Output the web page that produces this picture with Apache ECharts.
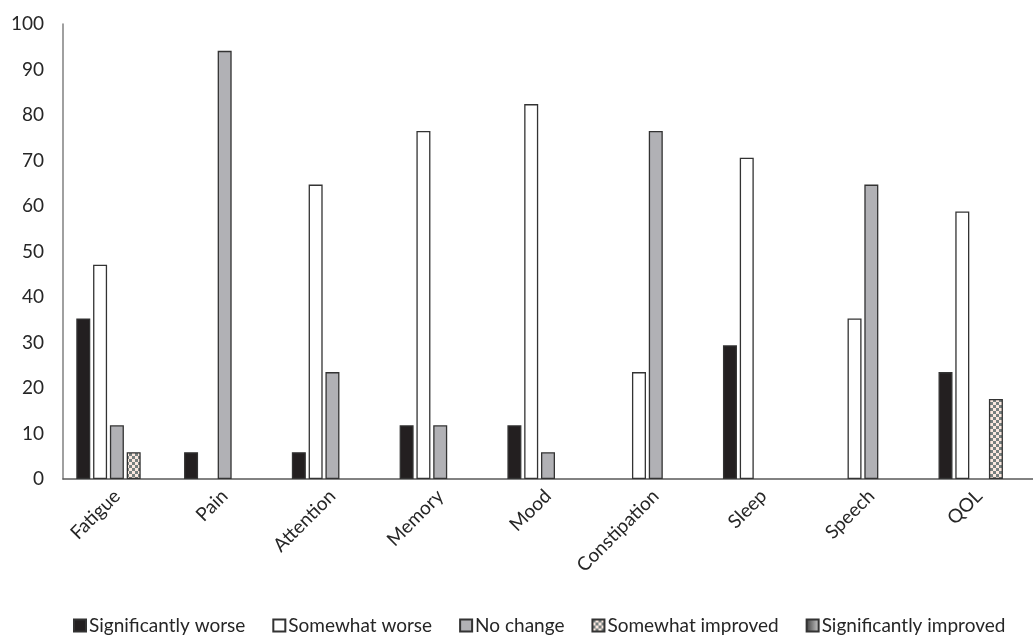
<!DOCTYPE html>
<html>
<head>
<meta charset="utf-8">
<script src="https://cdn.jsdelivr.net/npm/echarts@6/dist/echarts.min.js"></script>
<style>
html,body{margin:0;padding:0;background:#fff;}
#chart{width:1033px;height:637px;}
</style>
</head>
<body>
<div id="chart"></div>
<script>
const categories = ['Fatigue','Pain','Attention','Memory','Mood','Constipation','Sleep','Speech','QOL'];
const seriesNames = ['Significantly worse','Somewhat worse','No change','Somewhat improved','Significantly improved'];
const sigWorse = [35.3, 5.9, 5.9, 11.8, 11.8, 0, 29.4, 0, 23.5];
const someWorse = [47.1, 0, 64.7, 76.5, 82.4, 23.5, 70.6, 35.3, 58.8];
const noChange = [11.8, 94.1, 23.5, 11.8, 5.9, 76.5, 0, 64.7, 0];
const someImproved = [5.9, 0, 0, 0, 0, 0, 0, 0, 17.6];
const sigImproved = [0, 0, 0, 0, 0, 0, 0, 0, 0];
const yTicks = [0,10,20,30,40,50,60,70,80,90,100];

function checker(){
  const c = document.createElement('canvas');
  c.width = 6; c.height = 6;
  const g = c.getContext('2d');
  g.fillStyle = '#fbe8df'; g.fillRect(0,0,6,6);
  g.fillStyle = '#76807f';
  g.fillRect(0,0,3,3); g.fillRect(3,3,3,3);
  return c;
}
const fills = [
  '#231f20',
  '#ffffff',
  '#b1b1b5',
  {image: checker(), repeat: 'repeat'},
  {type:'linear', x:0, y:0, x2:1, y2:0, colorStops:[{offset:0,color:'#3a3a3a'},{offset:1,color:'#d0d0d0'}]}
];
const allData = [sigWorse, someWorse, noChange, someImproved, sigImproved];
const font = 'Lato, "Open Sans", sans-serif';

const chart = echarts.init(document.getElementById('chart'));
chart.setOption({
  animation: false,
  backgroundColor: '#ffffff',
  grid: {left: 63, right: -5, top: 24, bottom: 158, containLabel: false},
  xAxis: {
    type: 'category',
    data: categories,
    axisLine: {lineStyle: {color: '#595959', width: 1.5}},
    axisTick: {show: false},
    axisLabel: {rotate: 45, fontSize: 19, color: '#262626', fontFamily: font, margin: 14}
  },
  yAxis: {
    type: 'value',
    min: yTicks[0], max: yTicks[yTicks.length-1], interval: 10,
    axisLine: {show: true, lineStyle: {color: '#808080', width: 1.5}},
    axisTick: {show: false},
    splitLine: {show: false},
    axisLabel: {fontSize: 19, color: '#262626', fontFamily: font, margin: 19}
  },
  legend: {
    bottom: -3,
    left: 68,
    icon: 'rect',
    itemWidth: 12,
    itemHeight: 12,
    itemGap: 27,
    textStyle: {fontSize: 19, color: '#262626', fontFamily: font, padding: [0,0,0,-2]},
    data: seriesNames
  },
  series: seriesNames.map((name, i) => ({
    name: name,
    type: 'bar',
    barWidth: 14,
    barGap: '20%',
    data: allData[i].map(v => v === 0 ? null : v),
    itemStyle: {color: fills[i], borderColor: '#333333', borderWidth: 1.3}
  }))
});
</script>
</body>
</html>
